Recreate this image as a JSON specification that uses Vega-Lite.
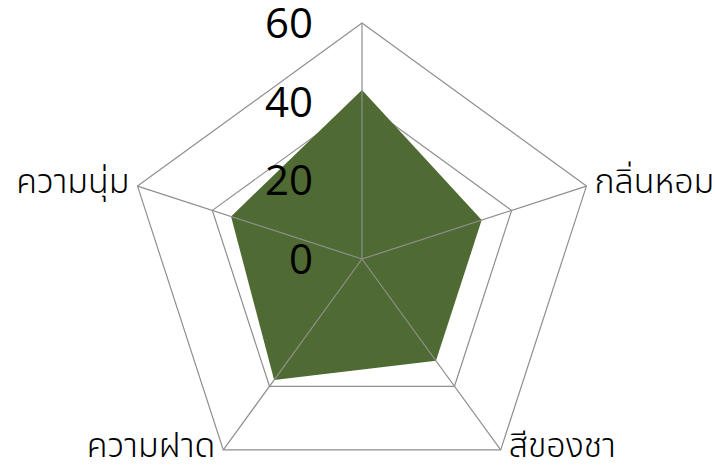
{
  "$schema": "https://vega.github.io/schema/vega-lite/v6.json",
  "width": 715,
  "height": 467,
  "autosize": {"type": "none"},
  "padding": 0,
  "config": {"view": {"stroke": null}},
  "datasets": {
    "scores": [
      {"axis": "รสชาติ", "i": 0, "value": 43},
      {"axis": "กลิ่นหอม", "i": 1, "value": 32},
      {"axis": "สีของชา", "i": 2, "value": 32},
      {"axis": "ความฝาด", "i": 3, "value": 38},
      {"axis": "ความนุ่ม", "i": 4, "value": 35}
    ],
    "grid": [
      {"level": 20, "i": 0}, {"level": 20, "i": 1}, {"level": 20, "i": 2}, {"level": 20, "i": 3}, {"level": 20, "i": 4},
      {"level": 40, "i": 0}, {"level": 40, "i": 1}, {"level": 40, "i": 2}, {"level": 40, "i": 3}, {"level": 40, "i": 4},
      {"level": 60, "i": 0}, {"level": 60, "i": 1}, {"level": 60, "i": 2}, {"level": 60, "i": 3}, {"level": 60, "i": 4}
    ],
    "ticks": [{"level": 0}, {"level": 20}, {"level": 40}, {"level": 60}]
  },
  "layer": [
    {
      "data": {"name": "grid"},
      "transform": [
        {"calculate": "datum.level * cos(PI/2 - datum.i*2*PI/5)", "as": "x"},
        {"calculate": "datum.level * sin(PI/2 - datum.i*2*PI/5)", "as": "y"}
      ],
      "mark": {"type": "line", "interpolate": "linear-closed", "stroke": "#8f8f8f", "strokeWidth": 1.2},
      "encoding": {
        "x": {"field": "x", "type": "quantitative", "scale": {"domain": [-92.03, 89.75], "nice": false, "zero": false}, "axis": null},
        "y": {"field": "y", "type": "quantitative", "scale": {"domain": [-52.88, 65.85], "nice": false, "zero": false}, "axis": null},
        "detail": {"field": "level", "type": "nominal"},
        "order": {"field": "i", "type": "quantitative"}
      }
    },
    {
      "data": {"name": "scores"},
      "transform": [
        {"calculate": "datum.value * cos(PI/2 - datum.i*2*PI/5)", "as": "x"},
        {"calculate": "datum.value * sin(PI/2 - datum.i*2*PI/5)", "as": "y"}
      ],
      "mark": {"type": "line", "interpolate": "linear-closed", "fill": "#4F6A32", "strokeWidth": 0},
      "encoding": {
        "x": {"field": "x", "type": "quantitative"},
        "y": {"field": "y", "type": "quantitative"},
        "order": {"field": "i", "type": "quantitative"}
      }
    },
    {
      "data": {"name": "grid"},
      "transform": [
        {"filter": "datum.level == 60"},
        {"calculate": "datum.level * cos(PI/2 - datum.i*2*PI/5)", "as": "x"},
        {"calculate": "datum.level * sin(PI/2 - datum.i*2*PI/5)", "as": "y"}
      ],
      "mark": {"type": "rule", "stroke": "#8f8f8f", "strokeWidth": 1.2},
      "encoding": {
        "x": {"field": "x", "type": "quantitative"},
        "y": {"field": "y", "type": "quantitative"},
        "x2": {"datum": 0},
        "y2": {"datum": 0}
      }
    },
    {
      "data": {"name": "ticks"},
      "mark": {"type": "text", "align": "right", "baseline": "middle", "dx": -49, "dy": 2, "fontSize": 42, "font": "Open Sans", "color": "#000000"},
      "encoding": {
        "x": {"datum": 0},
        "y": {"field": "level", "type": "quantitative"},
        "text": {"field": "level", "type": "quantitative"}
      }
    },
    {
      "data": {"name": "scores"},
      "transform": [
        {"filter": "datum.i == 1 || datum.i == 2"},
        {"calculate": "60 * cos(PI/2 - datum.i*2*PI/5)", "as": "x"},
        {"calculate": "60 * sin(PI/2 - datum.i*2*PI/5)", "as": "y"}
      ],
      "mark": {"type": "text", "align": "left", "baseline": "middle", "dx": 8, "dy": -3, "fontSize": 34, "fontWeight": 300, "font": "Noto Sans Thai, Noto Sans, sans-serif", "color": "#000000"},
      "encoding": {
        "x": {"field": "x", "type": "quantitative"},
        "y": {"field": "y", "type": "quantitative"},
        "text": {"field": "axis", "type": "nominal"}
      }
    },
    {
      "data": {"name": "scores"},
      "transform": [
        {"filter": "datum.i == 3 || datum.i == 4"},
        {"calculate": "60 * cos(PI/2 - datum.i*2*PI/5)", "as": "x"},
        {"calculate": "60 * sin(PI/2 - datum.i*2*PI/5)", "as": "y"}
      ],
      "mark": {"type": "text", "align": "right", "baseline": "middle", "dx": -8, "dy": -3, "fontSize": 34, "fontWeight": 300, "font": "Noto Sans Thai, Noto Sans, sans-serif", "color": "#000000"},
      "encoding": {
        "x": {"field": "x", "type": "quantitative"},
        "y": {"field": "y", "type": "quantitative"},
        "text": {"field": "axis", "type": "nominal"}
      }
    }
  ]
}
